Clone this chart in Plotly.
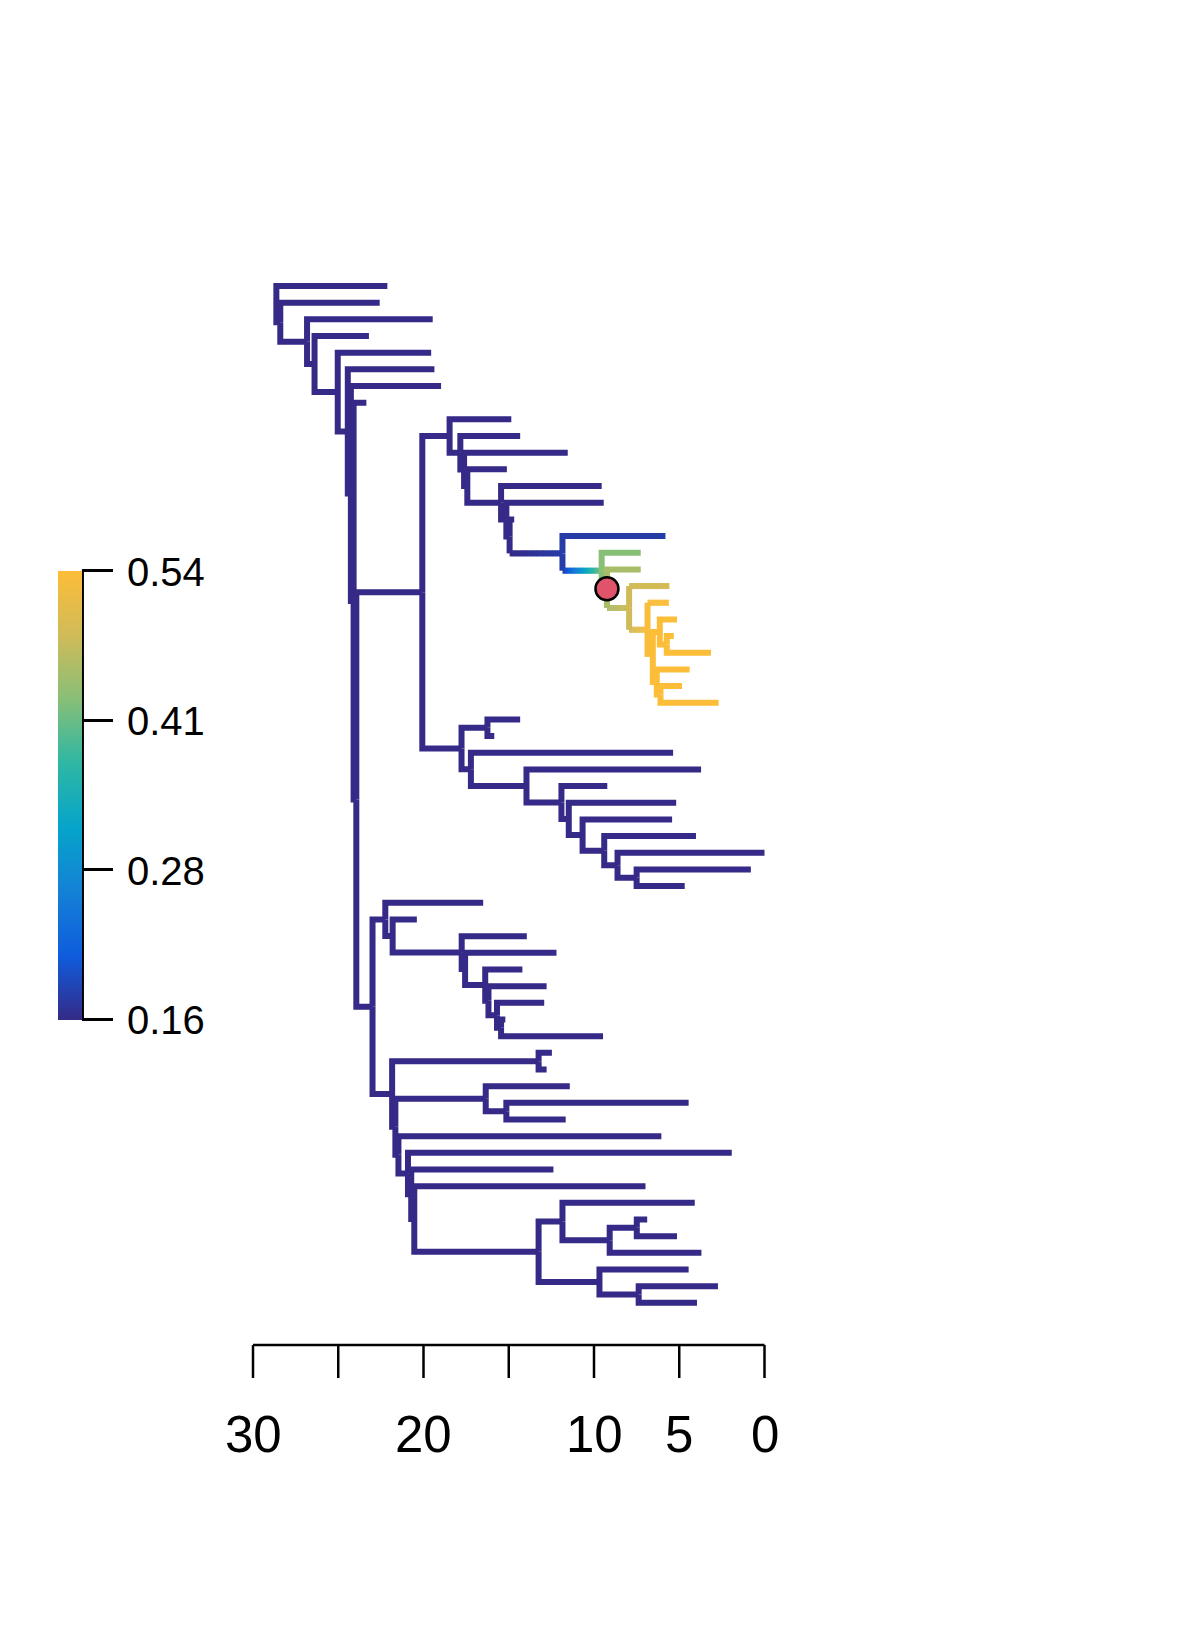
import numpy as np
import plotly.graph_objects as go

# tip ages (time before present), tips listed top to bottom
tip_age = [22.12, 22.57, 19.46, 23.20, 19.55, 19.36, 18.97, 23.35,
           14.85, 14.33, 11.54, 15.11, 9.55, 9.43, 14.68, 5.81, 7.26, 7.26,
           5.58, 5.61, 5.13, 5.32, 3.14, 4.39, 4.84, 2.69,
           14.33, 15.85, 5.36, 3.72, 9.22, 5.18, 5.42, 4.02, 0.00, 0.80, 4.68,
           16.50, 20.39, 13.94, 12.20, 14.20, 12.78, 12.92, 15.20, 9.47,
           12.47, 12.78, 11.42, 4.45, 11.66, 6.05, 1.92, 12.38, 6.98,
           4.09, 6.88, 5.13, 3.70, 4.45, 2.73, 3.96]
tip_name = [f"t{i + 1}" for i in range(len(tip_age))]

# internal nodes: name, age, children (in plotting order)
node_name = ["R", "B", "C", "D", "E", "F", "G", "H", "N",
             "U", "U1", "X", "Vp", "W", "Z", "Z2", "Q", "Rn", "S", "Xr", "T",
             "Y1", "Y2", "Y3", "Y4", "Y5", "Y6",
             "U2b", "U2a", "N1", "N2", "N3", "N4", "N5", "N6", "N7", "N8",
             "L", "La", "Lb", "Lc", "Ld", "Le", "Lf", "Lg", "Lh",
             "Lm", "Ln", "M0", "Lo", "Lp", "M1", "M2", "M3", "M4",
             "Lq", "Lr", "Ls", "Lv", "Lt", "Lu"]
node_age = [28.63, 28.40, 26.83, 26.39, 25.03, 24.44, 24.26, 24.10, 23.94,
            20.07, 18.47, 17.84, 17.62, 17.43, 15.45, 15.14, 14.95, 11.85, 9.55, 9.24, 7.94,
            6.86, 6.55, 6.14, 6.32, 5.73, 6.10,
            17.77, 16.25, 17.22, 13.96, 11.91, 11.48, 10.67, 9.40, 8.62, 7.50,
            22.99, 22.24, 21.81, 17.76, 17.56, 16.38, 16.19, 15.69, 15.45,
            21.84, 13.25, 21.65, 16.35, 15.14, 21.47, 20.91, 20.72, 20.54,
            13.25, 11.85, 9.08, 7.49, 9.68, 7.38]
node_kids = [("t1", "B"), ("t2", "C"), ("t3", "D"), ("t4", "E"), ("t5", "F"),
             ("t6", "G"), ("t7", "H"), ("t8", "N"), ("U", "L"),
             ("U1", "U2b"), ("t9", "X"), ("t10", "Vp"), ("t11", "W"), ("t12", "Z"),
             ("t13", "Z2"), ("t14", "Q"), ("t15", "Rn"), ("t16", "S"), ("t17", "Xr"),
             ("t18", "T"), ("t19", "Y1"),
             ("t20", "Y2"), ("Y3", "Y4"), ("t21", "Y5"), ("t24", "Y6"), ("t22", "t23"), ("t25", "t26"),
             ("U2a", "N1"), ("t27", "t28"), ("t29", "N2"), ("t30", "N3"), ("t31", "N4"),
             ("t32", "N5"), ("t33", "N6"), ("t34", "N7"), ("t35", "N8"), ("t36", "t37"),
             ("La", "Lm"), ("t38", "Lb"), ("t39", "Lc"), ("t40", "Ld"), ("t41", "Le"),
             ("t42", "Lf"), ("t43", "Lg"), ("t44", "Lh"), ("t45", "t46"),
             ("Ln", "M0"), ("t47", "t48"), ("Lo", "M1"), ("t49", "Lp"), ("t50", "t51"),
             ("t52", "M2"), ("t53", "M3"), ("t54", "M4"), ("t55", "Lq"),
             ("Lr", "Lt"), ("t56", "Ls"), ("Lv", "t59"), ("t57", "t58"), ("t60", "Lu"), ("t61", "t62")]

# mapped trait values; everything not listed sits at the base value
base_val = 0.155
trait_name = ["Rn", "t16", "S", "t17", "Xr", "t18", "T", "t19", "Y1", "t20",
              "Y2", "Y3", "Y4", "Y5", "Y6", "t21", "t22", "t23", "t24", "t25", "t26"]
trait_val = [0.176, 0.176, 0.43, 0.43, 0.455, 0.455, 0.485, 0.49, 0.535, 0.54,
             0.54, 0.54, 0.54, 0.54, 0.54, 0.54, 0.54, 0.54, 0.54, 0.54, 0.54]
shift_node = "Xr"

# colour scale and legend
vmin, vmax = 0.155, 0.54
cs_pos = [0, 1 / 7, 2 / 7, 3 / 7, 4 / 7, 5 / 7, 6 / 7, 1]
cs_hex = ["#352A87", "#0F5CDD", "#1481D6", "#06A4CA", "#2EB7A4", "#87BF77", "#D1BB59", "#FCBD38"]
cbar_vals = [0.155, 0.28333, 0.41167, 0.54]
cbar_text = ["0.16", "0.28", "0.41", "0.54"]

# time axis
axis_vals = [30, 25, 20, 15, 10, 5, 0]
axis_text = ["30", "", "20", "", "10", "5", "0"]

FONT = "Liberation Sans, Arial, sans-serif"
W, H = 1200, 1650
OFF = 8  # page margin of the html body
X0, XS = 764.5, 17.05   # page px of age 0, px per unit of age
Y0, YS = 286.0, 16.67   # page px of the first tip, px per tip


def px(x):
    return (x - OFF) / W


def py(y):
    return 1 - (y - OFF) / H


cs_rgb = [tuple(int(h[i:i + 2], 16) for i in (1, 3, 5)) for h in cs_hex]


def val_color(v):
    f = min(max((v - vmin) / (vmax - vmin), 0), 1)
    rgb = [np.interp(f, cs_pos, [c[k] for c in cs_rgb]) for k in range(3)]
    return "#%02x%02x%02x" % tuple(int(round(c)) for c in rgb)


kids = dict(zip(node_name, node_kids))
age = dict(zip(node_name, node_age))
age.update(dict(zip(tip_name, tip_age)))
val = dict(zip(trait_name, trait_val))
ypos = {n: i + 1 for i, n in enumerate(tip_name)}


def place(n):
    if n not in ypos:
        ys = [place(c) for c in kids[n]]
        ypos[n] = (ys[0] + ys[-1]) / 2
    return ypos[n]


place("R")

groups = {}


def add(xs, ys, color):
    gx, gy = groups.setdefault(color, ([], []))
    gx.extend(list(xs) + [None])
    gy.extend(list(ys) + [None])


for p in node_name:
    vp = val.get(p, base_val)
    for c in kids[p]:
        vc = val.get(c, base_val)
        x0, y0, x1, y1 = age[p], ypos[p], age[c], ypos[c]
        if abs(vc - vp) < 1e-9:
            add([x0, x0, x1], [y0, y1, y1], val_color(vp))
        else:
            add([x0, x0], [y0, y1], val_color(vp))
            n = 30
            xs = np.linspace(x0, x1, n + 1)
            dx = xs[1] - xs[0]
            for i in range(n):
                vm = vp + (vc - vp) * (i + 0.5) / n
                xe = xs[i + 1] + (0.6 * dx if i < n - 1 else 0)
                add([xs[i], xe], [y1, y1], val_color(vm))

fig = go.Figure()
base_col = val_color(base_val)
order = [base_col] + [k for k in groups if k != base_col]
for col in order:
    gx, gy = groups[col]
    fig.add_trace(go.Scatter(x=gx, y=gy, mode="lines", line=dict(color=col, width=6),
                             hoverinfo="skip", showlegend=False))

fig.add_trace(go.Scatter(x=[age[shift_node]], y=[ypos[shift_node]], mode="markers",
                         marker=dict(size=23, color="#DF536B", line=dict(color="black", width=2.5)),
                         hoverinfo="skip", showlegend=False))

# colour legend
bar_top, bar_bot = 570.7, 1019.3
fig.add_trace(go.Scatter(
    x=[age["R"]], y=[ypos["R"]], mode="markers", hoverinfo="skip", showlegend=False,
    marker=dict(size=1, opacity=0, color=[vmin], cmin=vmin, cmax=vmax,
                colorscale=[[p, c] for p, c in zip(cs_pos, cs_hex)], showscale=True,
                colorbar=dict(x=px(58.3), xanchor="left", xpad=0,
                              y=py((bar_top + bar_bot) / 2), yanchor="middle", ypad=0,
                              len=bar_bot - bar_top, lenmode="pixels",
                              thickness=24.4, thicknessmode="pixels",
                              outlinewidth=0, ticks="outside", ticklen=31, tickwidth=2.5,
                              tickcolor="black", tickvals=cbar_vals, showticklabels=False))))

shapes = [dict(type="line", xref="paper", yref="paper", x0=px(82.7), x1=px(82.7),
               y0=py(bar_top), y1=py(bar_bot), line=dict(color="black", width=2.5))]
annotations = []
for v, t in zip(cbar_vals, cbar_text):
    yy = bar_bot - (v - vmin) / (vmax - vmin) * (bar_bot - bar_top)
    annotations.append(dict(x=px(125), y=py(yy + 1), xref="paper", yref="paper", text=t,
                            showarrow=False, xanchor="left", yanchor="middle",
                            font=dict(size=40, family=FONT, color="black")))

ax_y, tick_y, lab_y = py(1345), py(1378), py(1434)
shapes.append(dict(type="line", xref="x", yref="paper", x0=axis_vals[0], x1=axis_vals[-1],
                   y0=ax_y, y1=ax_y, line=dict(color="black", width=2.5)))
for v, t in zip(axis_vals, axis_text):
    shapes.append(dict(type="line", xref="x", yref="paper", x0=v, x1=v, y0=ax_y, y1=tick_y,
                       line=dict(color="black", width=2.5)))
    if t:
        annotations.append(dict(x=v, y=lab_y, xref="x", yref="paper", text=t, showarrow=False,
                                xanchor="center", yanchor="middle",
                                font=dict(size=51, family=FONT, color="black")))

fig.update_layout(
    width=W, height=H, margin=dict(l=0, r=0, t=0, b=0),
    paper_bgcolor="white", plot_bgcolor="white",
    xaxis=dict(visible=False, range=[(X0 - OFF) / XS, (X0 - OFF - W) / XS]),
    yaxis=dict(visible=False, range=[1 + (H - Y0 + OFF) / YS, 1 - (Y0 - OFF) / YS]),
    shapes=shapes, annotations=annotations,
)

fig.write_html("out.html")
